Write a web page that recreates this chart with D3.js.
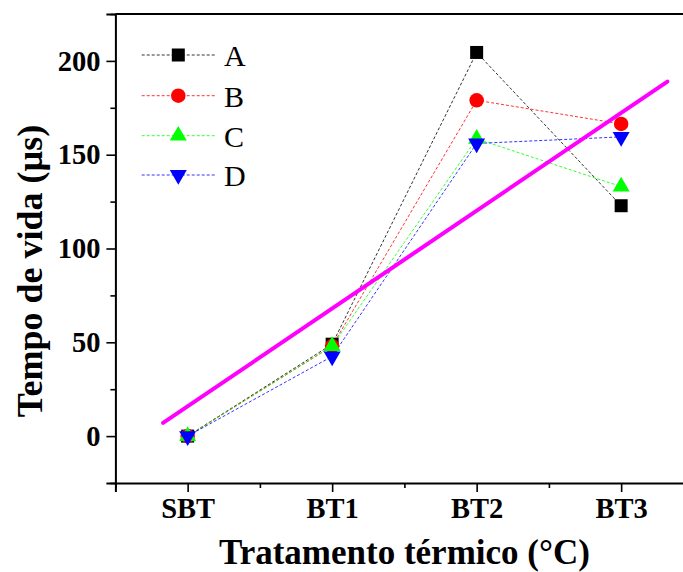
<!DOCTYPE html>
<html>
<head>
<meta charset="utf-8">
<script src="https://cdn.jsdelivr.net/npm/d3@7"></script>
<style>
  html, body { margin: 0; padding: 0; background: #fff; }
  svg { display: block; }
  text { font-family: "Liberation Serif", "Times New Roman", serif; }
</style>
</head>
<body>
<svg id="chart" width="683" height="572"></svg>
<script>
// ---- data ----
const categories = ["SBT", "BT1", "BT2", "BT3"];
const seriesNames = ["A", "B", "C", "D"];
const seriesA = [0, 49, 204.5, 122.8];
const seriesB = [0, 48, 179, 166.4];
const seriesC = [0, 48, 158.5, 133];
const seriesD = [0, 42.5, 156, 159.5];
const yMajorTicks = [0, 50, 100, 150, 200];
const yMinorTicks = [-25, 25, 75, 125, 175, 225];
const xMinorTicks = [0.5, 1.5, 2.5, 3.5, 4.5];
const trendX = [0.83, 4.32];
const trendY = [7, 189];

// ---- styles ----
const colors = ["#000000", "#ff0000", "#00ff00", "#0000ff"];
const symbols = [
  {type: d3.symbolSquare, size: 169, rot: 0},
  {type: d3.symbolCircle, size: 165, rot: 0},
  {type: d3.symbolTriangle, size: 125, rot: 0},
  {type: d3.symbolTriangle, size: 125, rot: 180}
];
const allSeries = [seriesA, seriesB, seriesC, seriesD];

const svg = d3.select("#chart");
const x = d3.scaleLinear().domain([0.5, 4.5]).range([115.4, 693.4]);
const y = d3.scaleLinear().domain([-25, 225]).range([483, 14]);

// axes
const gy = svg.append("g").attr("transform", `translate(${x(0.5)},0)`);
gy.call(d3.axisLeft(y).tickValues(yMajorTicks).tickSize(9).tickPadding(6).tickFormat(d3.format("d")));
const gyMinor = svg.append("g").attr("transform", `translate(${x(0.5)},0)`);
gyMinor.call(d3.axisLeft(y).tickValues(yMinorTicks).tickSize(5).tickFormat(""));

const gx = svg.append("g").attr("transform", `translate(0,${y(-25)})`);
gx.call(d3.axisBottom(x).tickValues([1, 2, 3, 4]).tickSize(9).tickPadding(6)
  .tickFormat(d => categories[d - 1]));
const gxMinor = svg.append("g").attr("transform", `translate(0,${y(-25)})`);
gxMinor.call(d3.axisBottom(x).tickValues(xMinorTicks).tickSize(5).tickFormat(""));

svg.selectAll(".domain").attr("stroke", "#000").attr("stroke-width", 2);
svg.selectAll(".tick line").attr("stroke", "#000").attr("stroke-width", 1.6);
gy.selectAll("text").attr("font-size", 28.5).attr("font-weight", "bold")
  .attr("font-family", "'Liberation Serif', 'Times New Roman', serif").attr("fill", "#000");
gx.selectAll("text").attr("font-size", 28.5).attr("font-weight", "bold")
  .attr("font-family", "'Liberation Serif', 'Times New Roman', serif").attr("fill", "#000");
gyMinor.select(".domain").remove();
gxMinor.select(".domain").remove();

// top frame line
svg.append("line")
  .attr("x1", x(0.5)).attr("x2", x(4.5))
  .attr("y1", y(225)).attr("y2", y(225))
  .attr("stroke", "#000").attr("stroke-width", 2);
svg.append("line")
  .attr("x1", x(4.5)).attr("x2", x(4.5))
  .attr("y1", y(225)).attr("y2", y(-25))
  .attr("stroke", "#000").attr("stroke-width", 2);

// series
const line = d3.line().x((d, i) => x(i + 1)).y(d => y(d));
allSeries.forEach((s, k) => {
  svg.append("path").datum(s)
    .attr("d", line)
    .attr("fill", "none")
    .attr("stroke", colors[k])
    .attr("stroke-width", 1)
    .attr("stroke-dasharray", "3,2")
    .attr("stroke-opacity", 0.8);
});
allSeries.forEach((s, k) => {
  const sym = symbols[k];
  svg.append("g").selectAll("path").data(s).join("path")
    .attr("d", d3.symbol().type(sym.type).size(sym.size))
    .attr("transform", (d, i) => `translate(${x(i + 1)},${y(d)}) rotate(${sym.rot})`)
    .attr("fill", colors[k]);
});

// trend line
svg.append("line")
  .attr("x1", x(trendX[0])).attr("y1", y(trendY[0]))
  .attr("x2", x(trendX[1])).attr("y2", y(trendY[1]))
  .attr("stroke", "#ff00ff").attr("stroke-width", 4).attr("stroke-linecap", "round");

// legend
const legY = [55, 95.7, 135.7, 175];
seriesNames.forEach((name, k) => {
  const g = svg.append("g");
  g.append("line").attr("x1", 141.7).attr("x2", 215).attr("y1", legY[k]).attr("y2", legY[k])
    .attr("stroke", colors[k]).attr("stroke-width", 1).attr("stroke-dasharray", "3,2").attr("stroke-opacity", 0.8);
  const sym = symbols[k];
  g.append("path").attr("d", d3.symbol().type(sym.type).size(sym.size)())
    .attr("transform", `translate(178.3,${legY[k]}) rotate(${sym.rot})`)
    .attr("fill", colors[k]);
  g.append("text").attr("x", 224).attr("y", legY[k] + 11)
    .attr("font-size", 30).attr("fill", "#000").text(name);
});

// axis titles
svg.append("text")
  .attr("x", (x(0.5) + x(4.5)) / 2).attr("y", 564)
  .attr("text-anchor", "middle").attr("font-size", 35).attr("font-weight", "bold")
  .text("Tratamento térmico (°C)");
svg.append("text")
  .attr("transform", "translate(42,271) rotate(-90)")
  .attr("text-anchor", "middle").attr("font-size", 36).attr("font-weight", "bold")
  .text("Tempo de vida (µs)");
</script>
</body>
</html>
